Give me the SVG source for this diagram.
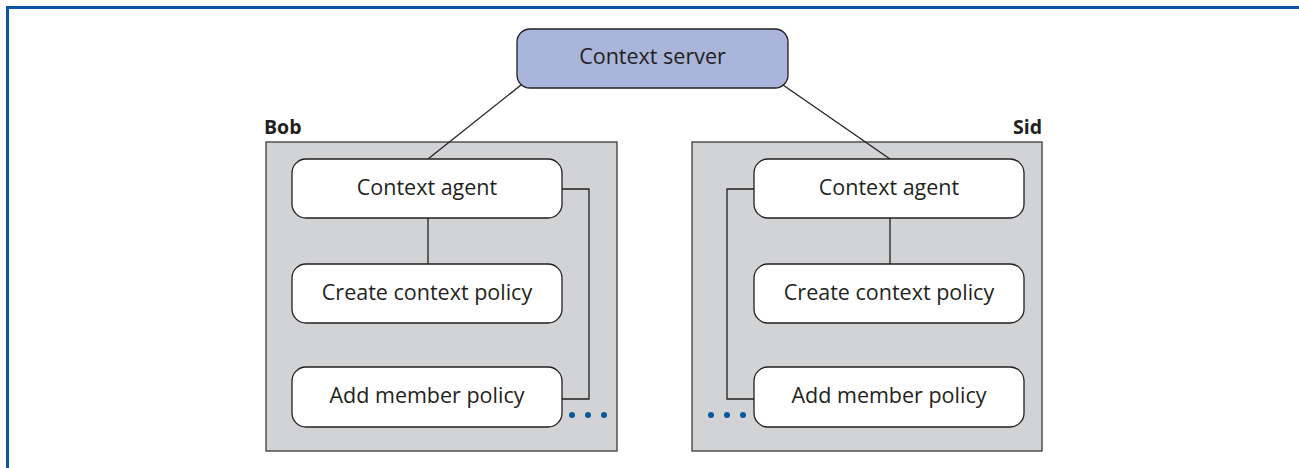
<svg xmlns="http://www.w3.org/2000/svg" width="1299" height="468" viewBox="0 0 1299 468">
  <style>
    .frame { stroke: #0a58a3; stroke-width: 3; fill: none; }
    .panel { fill: #d1d3d4; stroke: #3a3a3a; stroke-width: 1.3; }
    .box { fill: #ffffff; stroke: #231f20; stroke-width: 1.3; }
    .server { fill: #a9b5da; stroke: #231f20; stroke-width: 1.3; }
    .wire { stroke: #231f20; stroke-width: 1.3; fill: none; }
    .lbl { font-family: "Open Sans", "Noto Sans", sans-serif; font-size: 21.5px; fill: #231f20; text-anchor: middle; }
    .owner { font-family: "Open Sans", "Noto Sans", sans-serif; font-size: 19.5px; font-weight: bold; fill: #231f20; }
    .dot { fill: #0a58a3; }
  </style>

  <rect width="1299" height="468" fill="#ffffff"/>
  <!-- outer frame: top and left rules only -->
  <path class="frame" d="M7.5 1299 V7.5 H1299"/>

  <!-- owner panels -->
  <g id="bob">
    <rect class="panel" x="266" y="142" width="351" height="309"/>
    <text class="owner" x="264" y="134">Bob</text>
  </g>
  <g id="sid">
    <rect class="panel" x="692" y="142" width="350" height="309"/>
    <text class="owner" x="1042" y="134" text-anchor="end">Sid</text>
  </g>

  <!-- connectors -->
  <g id="connectors">
    <line class="wire" x1="521" y1="85" x2="428" y2="159"/>
    <line class="wire" x1="783" y1="85" x2="890" y2="159"/>
    <line class="wire" x1="428" y1="218" x2="428" y2="264"/>
    <line class="wire" x1="890" y1="218" x2="890" y2="264"/>
    <path class="wire" d="M562 189 H589 V399 H562"/>
    <path class="wire" d="M754 189 H727 V399 H754"/>
    <circle class="dot" cx="572" cy="415" r="3"/>
    <circle class="dot" cx="588" cy="415" r="3"/>
    <circle class="dot" cx="604" cy="415" r="3"/>
    <circle class="dot" cx="711" cy="415" r="3"/>
    <circle class="dot" cx="727" cy="415" r="3"/>
    <circle class="dot" cx="743" cy="415" r="3"/>
  </g>

  <g id="context-server">
    <rect class="server" x="517" y="29" width="271" height="59" rx="13"/>
    <text class="lbl" x="652.5" y="64">Context server</text>
  </g>

  <g id="bob-context-agent">
    <rect class="box" x="292" y="159" width="270" height="59" rx="14"/>
    <text class="lbl" x="427" y="195">Context agent</text>
  </g>
  <g id="bob-create-context-policy">
    <rect class="box" x="292" y="264" width="270" height="59" rx="14"/>
    <text class="lbl" x="427" y="300">Create context policy</text>
  </g>
  <g id="bob-add-member-policy">
    <rect class="box" x="292" y="367" width="270" height="60" rx="14"/>
    <text class="lbl" x="427" y="403">Add member policy</text>
  </g>

  <g id="sid-context-agent">
    <rect class="box" x="754" y="159" width="270" height="59" rx="14"/>
    <text class="lbl" x="889" y="195">Context agent</text>
  </g>
  <g id="sid-create-context-policy">
    <rect class="box" x="754" y="264" width="270" height="59" rx="14"/>
    <text class="lbl" x="889" y="300">Create context policy</text>
  </g>
  <g id="sid-add-member-policy">
    <rect class="box" x="754" y="367" width="270" height="60" rx="14"/>
    <text class="lbl" x="889" y="403">Add member policy</text>
  </g>
</svg>
